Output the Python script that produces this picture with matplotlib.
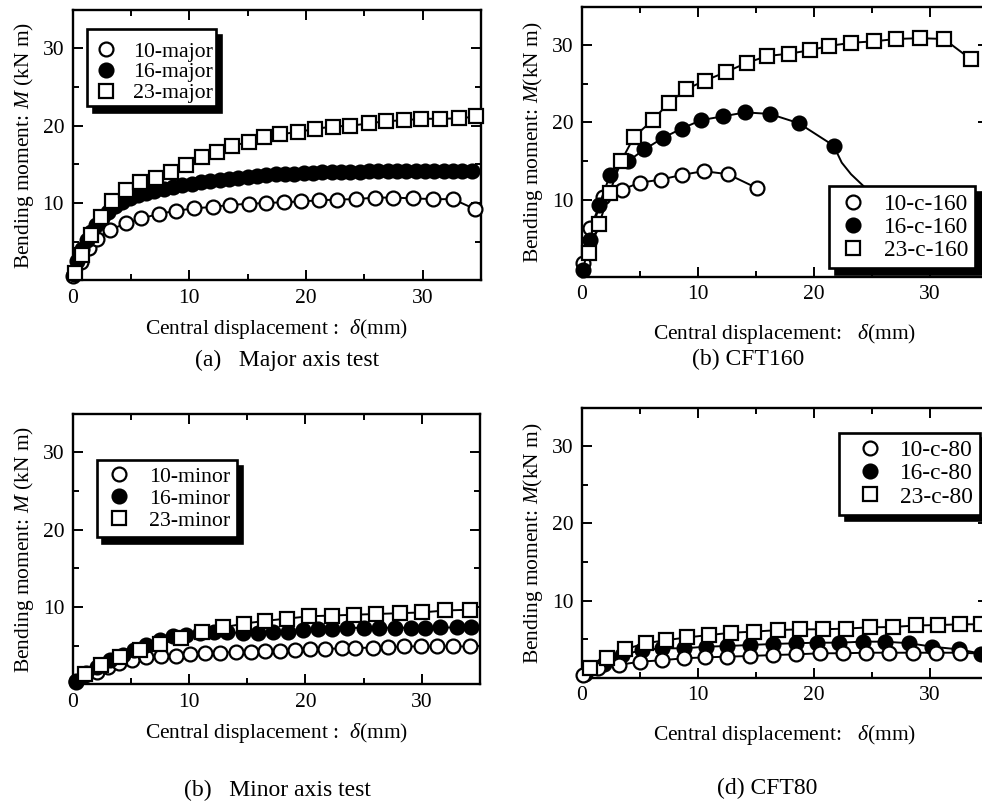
import matplotlib
matplotlib.use("Agg")
import matplotlib.pyplot as plt
from matplotlib.lines import Line2D
from matplotlib.ticker import FixedLocator

plt.rcParams['font.family'] = ['Liberation Serif', 'DejaVu Serif']
plt.rcParams['mathtext.fontset'] = 'custom'
plt.rcParams['mathtext.rm'] = 'Liberation Serif'
plt.rcParams['mathtext.it'] = 'Liberation Serif:italic'

# ---------------- data ----------------
# (a) Major axis test
x10_major = [0.0, 0.7, 1.4, 2.1, 3.2, 4.6, 5.9, 7.4, 8.9, 10.4, 12.0, 13.5, 15.1, 16.6, 18.1,
             19.6, 21.1, 22.7, 24.3, 25.9, 27.5, 29.2, 30.9, 32.6, 34.5]
y10_major = [0.5, 2.4, 4.2, 5.4, 6.5, 7.4, 8.0, 8.6, 9.0, 9.3, 9.5, 9.75, 9.9, 10.0, 10.1,
             10.2, 10.35, 10.45, 10.5, 10.7, 10.7, 10.6, 10.5, 10.5, 9.2]
x16_major = [0.1, 0.4, 0.8, 1.2, 1.6, 2.0, 2.5, 3.0, 3.6, 4.2, 4.9, 5.6, 6.3, 7.0, 7.8, 8.6,
             9.4, 10.2, 11.0, 11.8, 12.6, 13.4, 14.2, 15.0, 15.8, 16.6, 17.4, 18.2, 19.0, 19.8,
             20.6, 21.4, 22.2, 23.0, 23.8, 24.6, 25.4, 26.2, 27.0, 27.8, 28.6, 29.4, 30.2, 31.0,
             31.8, 32.6, 33.4, 34.2]
y16_major = [0.8, 2.5, 4.0, 5.2, 6.2, 7.1, 8.1, 8.9, 9.6, 10.1, 10.6, 11.0, 11.3, 11.6, 11.85,
             12.1, 12.3, 12.5, 12.7, 12.85, 13.0, 13.15, 13.3, 13.4, 13.5, 13.6, 13.7, 13.75,
             13.8, 13.85, 13.9, 13.95, 14.0, 14.0, 14.05, 14.05, 14.1, 14.1, 14.1, 14.1, 14.1,
             14.1, 14.1, 14.1, 14.1, 14.1, 14.1, 14.1]
x23_major = [0.2, 0.8, 1.55, 2.4, 3.4, 4.6, 5.8, 7.15, 8.4, 9.7, 11.1, 12.4, 13.7, 15.1, 16.4,
             17.8, 19.35, 20.8, 22.35, 23.8, 25.4, 26.9, 28.4, 29.9, 31.5, 33.1, 34.6]
y23_major = [0.9, 3.3, 5.85, 8.15, 10.3, 11.7, 12.75, 13.2, 14.05, 14.9, 15.9, 16.6, 17.4, 17.9,
             18.5, 18.9, 19.2, 19.6, 19.9, 20.0, 20.3, 20.6, 20.7, 20.9, 20.9, 20.95, 21.2]

# (b) CFT160
x10_c160 = [0.14, 0.72, 1.86, 3.45, 5.0, 6.8, 8.6, 10.5, 12.6, 15.1, 15.6]
y10_c160 = [1.8, 6.3, 10.4, 11.3, 12.2, 12.6, 13.2, 13.7, 13.3, 11.5, 10.9]
mk10_c160 = [0, 1, 2, 3, 4, 5, 6, 7, 8, 9]
x16_c160 = [0.1, 0.72, 1.5, 2.44, 4.0, 5.4, 7.0, 8.6, 10.3, 12.2, 14.1, 16.2, 18.7, 21.7,
            22.4, 23.2, 24.6, 26.0]
y16_c160 = [0.9, 4.8, 9.3, 13.2, 15.0, 16.5, 18.0, 19.2, 20.3, 20.8, 21.3, 21.1, 19.9, 17.0,
            14.8, 13.3, 11.3, 9.0]
mk16_c160 = [0, 1, 2, 3, 4, 5, 6, 7, 8, 9, 10, 11, 12, 13]
x23_c160 = [0.66, 1.5, 2.4, 3.4, 4.5, 6.1, 7.5, 9.0, 10.6, 12.4, 14.2, 16.0, 17.9, 19.7, 21.3,
            23.2, 25.2, 27.1, 29.1, 31.2, 33.5]
y23_c160 = [3.1, 6.9, 10.9, 15.0, 18.1, 20.3, 22.5, 24.3, 25.4, 26.5, 27.7, 28.6, 28.9, 29.35,
            29.9, 30.3, 30.5, 30.8, 30.9, 30.8, 28.2]

# (c) Minor axis test
x10_minor = [0.3, 1.06, 2.1, 3.0, 4.0, 5.1, 6.3, 7.6, 8.9, 10.1, 11.4, 12.7, 14.0, 15.3, 16.5,
             17.8, 19.1, 20.4, 21.7, 23.1, 24.3, 25.8, 27.1, 28.5, 29.9, 31.3, 32.7, 34.1]
y10_minor = [0.43, 1.2, 1.6, 2.3, 2.7, 3.2, 3.5, 3.6, 3.7, 3.9, 4.0, 4.1, 4.16, 4.24, 4.37,
             4.37, 4.46, 4.55, 4.55, 4.68, 4.68, 4.76, 4.8, 4.9, 4.9, 4.9, 4.9, 4.9]
x16_minor = [0.3, 1.1, 2.1, 3.2, 4.3, 5.3, 6.3, 7.5, 8.6, 9.7, 10.9, 12.1, 13.3, 14.6, 15.9,
             17.2, 18.5, 19.8, 21.1, 22.3, 23.6, 25.0, 26.3, 27.7, 29.1, 30.3, 31.6, 33.0, 34.2]
y16_minor = [0.35, 1.4, 2.3, 3.2, 3.8, 4.5, 5.1, 5.75, 6.2, 6.4, 6.6, 6.75, 6.75, 6.6, 6.6,
             6.75, 6.8, 7.05, 7.1, 7.1, 7.3, 7.3, 7.3, 7.3, 7.3, 7.3, 7.35, 7.35, 7.35]
x23_minor = [1.06, 2.4, 4.1, 5.8, 7.5, 9.3, 11.1, 12.9, 14.7, 16.5, 18.4, 20.3, 22.3, 24.2,
             26.1, 28.1, 30.0, 32.0, 34.1]
y23_minor = [1.34, 2.5, 3.5, 4.5, 5.2, 6.0, 6.75, 7.35, 7.85, 8.2, 8.5, 8.8, 8.9, 9.0, 9.1,
             9.2, 9.3, 9.55, 9.65]

# (d) CFT80
x10_c80 = [0.14, 1.43, 3.2, 5.0, 6.9, 8.8, 10.6, 12.55, 14.5, 16.5, 18.5, 20.5, 22.5, 24.5,
           26.5, 28.5, 30.5, 32.55, 34.6]
y10_c80 = [0.4, 1.25, 1.7, 2.1, 2.3, 2.55, 2.67, 2.76, 2.85, 2.97, 3.06, 3.2, 3.2, 3.27, 3.27,
           3.27, 3.27, 3.27, 3.15]
mk10_c80 = list(range(18))
x16_c80 = [0.3, 1.9, 3.5, 5.2, 6.9, 8.8, 10.7, 12.55, 14.5, 16.5, 18.5, 20.3, 22.2, 24.2, 26.1,
           28.2, 30.2, 32.5, 34.4]
y16_c80 = [0.5, 1.8, 3.0, 3.6, 3.84, 3.84, 4.05, 4.14, 4.27, 4.4, 4.5, 4.57, 4.57, 4.7, 4.7,
           4.5, 4.05, 3.7, 3.15]
x23_c80 = [0.72, 2.15, 3.7, 5.5, 7.3, 9.1, 11.0, 12.9, 14.85, 16.9, 18.8, 20.8, 22.8, 24.8,
           26.8, 28.8, 30.7, 32.6, 34.4]
y23_c80 = [1.25, 2.55, 3.7, 4.5, 4.9, 5.26, 5.56, 5.86, 6.0, 6.2, 6.3, 6.3, 6.4, 6.55, 6.6,
           6.8, 6.85, 6.95, 6.95]

labels_a = ['10-major', '16-major', '23-major']
labels_b = ['10-c-160', '16-c-160', '23-c-160']
labels_c = ['10-minor', '16-minor', '23-minor']
labels_d = ['10-c-80', '16-c-80', '23-c-80']

# ---------------- styling ----------------
W, H = 982, 802
fig = plt.figure(figsize=(W / 100, H / 100), dpi=100)

MS = 10
MEW = 1.6
LW = 1.4
TICK_FS = 15.5
LABEL_FS = 15.5
styles = [dict(marker='o', mfc='white', mec='black'),
          dict(marker='o', mfc='black', mec='black'),
          dict(marker='s', mfc='white', mec='black')]


def px_axes(x0, y0, x35, h=270.5):
    # x0,y0: pixel position of data origin; x35: pixel x of 35 mm
    return fig.add_axes([x0 / W, (H - y0) / H, (x35 - x0) / W, h / H])


def style_axes(ax, ylabel, xlabel, xpad):
    ax.set_xlim(0, 35)
    ax.set_ylim(0, 35)
    ax.xaxis.set_major_locator(FixedLocator([0, 10, 20, 30]))
    ax.xaxis.set_minor_locator(FixedLocator([5, 15, 25, 35]))
    ax.yaxis.set_major_locator(FixedLocator([10, 20, 30]))
    ax.yaxis.set_minor_locator(FixedLocator([5, 15, 25]))
    ax.tick_params(which='both', direction='in', top=True, right=True, width=1.4,
                   labelsize=TICK_FS, pad=6)
    ax.tick_params(which='major', length=7)
    ax.tick_params(which='minor', length=4)
    for s in ax.spines.values():
        s.set_linewidth(1.7)
    ax.set_xlabel(xlabel, fontsize=LABEL_FS, labelpad=xpad)
    ax.set_ylabel(ylabel, fontsize=LABEL_FS, labelpad=5)


def series(ax, x, y, st, z, markevery=None):
    ax.plot(x, y, color='black', lw=LW, ms=MS, mew=MEW, zorder=z,
            markevery=markevery, clip_on=False, **st)


def legend(ax, labels, loc, anchor, fs, hl, htp, ls=0.08, bp=0.3, title=None, tfs=5):
    handles = [Line2D([], [], ls='none', ms=MS, mew=MEW, **st) for st in styles]
    leg = ax.legend(handles, labels, loc=loc, bbox_to_anchor=anchor, frameon=True,
                    fancybox=False, framealpha=1, edgecolor='black', fontsize=fs,
                    handlelength=hl, handletextpad=htp, labelspacing=ls,
                    borderpad=bp, borderaxespad=0, title=title, title_fontsize=tfs,
                    shadow={'ox': 4, 'oy': -4, 'color': 'black', 'alpha': 1})
    leg.get_frame().set_linewidth(1.9)
    leg.set_zorder(20)
    return leg


# (a)
axa = px_axes(72.5, 280.3, 481.0)
series(axa, x10_major, y10_major, styles[0], 3)
series(axa, x16_major, y16_major, styles[1], 4)
series(axa, x23_major, y23_major, styles[2], 5)
style_axes(axa, 'Bending moment: $M$ (kN m)', 'Central displacement :  $\\delta$(mm)', 7)
legend(axa, labels_a, 'upper left', (0.0355, 0.929), 15.7, 1.5, 0.5, ls=0.03, bp=0.12,
       title=' ', tfs=7.5)

# (b)
axb = px_axes(581.7, 277.0, 988.0)
series(axb, x10_c160, y10_c160, styles[0], 3, mk10_c160)
series(axb, x16_c160, y16_c160, styles[1], 4, mk16_c160)
series(axb, x23_c160, y23_c160, styles[2], 5)
style_axes(axb, 'Bending moment: $M$(kN m)', 'Central displacement:   $\\delta$(mm)', 13)
legend(axb, labels_b, 'lower right', (0.968, 0.033), 16.8, 1.4, 0.63)

# (c)
axc = px_axes(72.7, 684.3, 480.0)
series(axc, x10_minor, y10_minor, styles[0], 3)
series(axc, x16_minor, y16_minor, styles[1], 4)
series(axc, x23_minor, y23_minor, styles[2], 5)
style_axes(axc, 'Bending moment: $M$ (kN m)', 'Central displacement :  $\\delta$(mm)', 7)
legend(axc, labels_c, 'upper left', (0.059, 0.829), 15.7, 1.4, 0.7)

# (d)
axd = px_axes(581.7, 678.0, 988.0)
series(axd, x16_c80, y16_c80, styles[1], 3)
series(axd, x10_c80, y10_c80, styles[0], 4, mk10_c80)
series(axd, x23_c80, y23_c80, styles[2], 5)
style_axes(axd, 'Bending moment: $M$(kN m)', 'Central displacement:   $\\delta$(mm)', 13)
legend(axd, labels_d, 'upper right', (0.98, 0.906), 16.8, 2.0, 0.3)

# captions
fig.text(287 / W, 1 - 360 / H, '(a)   Major axis test', ha='center', va='center', fontsize=17)
fig.text(748 / W, 1 - 359 / H, '(b) CFT160', ha='center', va='center', fontsize=17)
fig.text(277 / W, 1 - 790 / H, '(b)   Minor axis test', ha='center', va='center', fontsize=17)
fig.text(767 / W, 1 - 788 / H, '(d) CFT80', ha='center', va='center', fontsize=17)

fig.savefig('out.png', dpi=100)
